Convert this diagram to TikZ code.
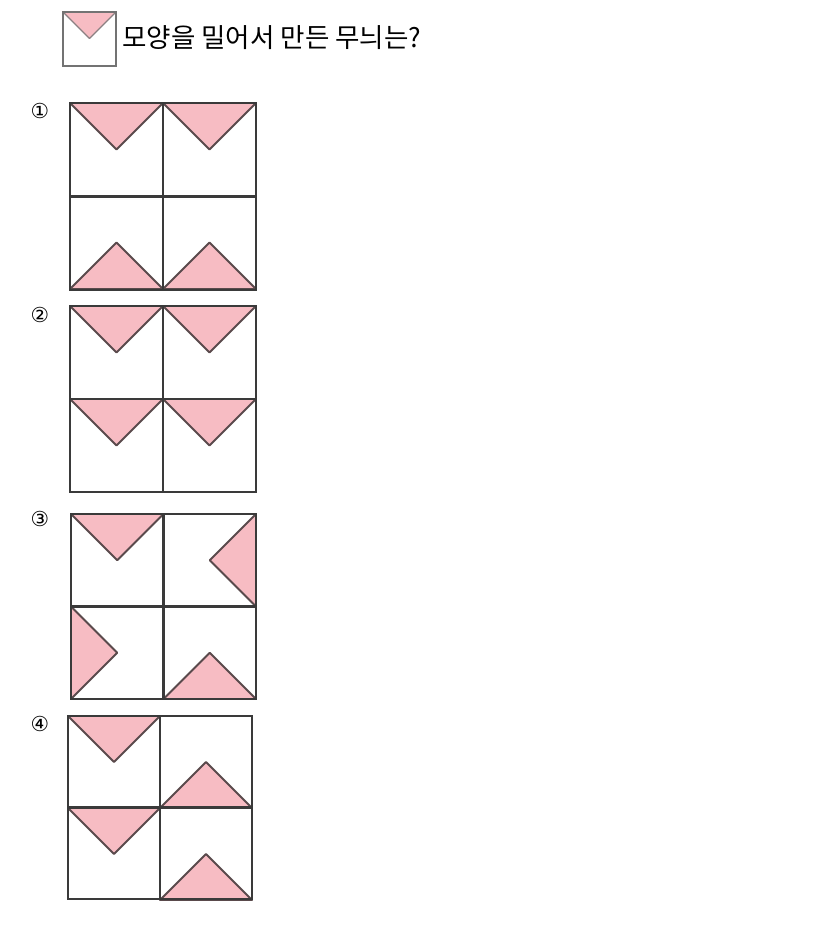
\documentclass[tikz,border=0pt]{standalone}
\usepackage{fontspec}
\newfontfamily\krfont{Noto Sans CJK KR}
\newfontfamily\symfont{DejaVu Sans}
\definecolor{pinkfill}{HTML}{F7BCC3}
\definecolor{triline}{HTML}{5A4A4C}
\definecolor{gridline}{HTML}{3A3A3A}
\tikzset{
  tri/.style={fill=pinkfill, draw=triline, line width=1.4pt, line join=round},
  gridl/.style={draw=gridline, line width=1.6pt},
  lbl/.style={font=\symfont\fontsize{15.5}{15.5}\selectfont, inner sep=0pt}
}
% cell: x0 y0 size orientation
\newcommand\pcell[4]{%
  \pgfmathsetmacro\xa{#1}\pgfmathsetmacro\ya{#2}\pgfmathsetmacro\ss{#3}%
  \pgfmathsetmacro\xb{\xa+\ss}\pgfmathsetmacro\yb{\ya+\ss}%
  \pgfmathsetmacro\xm{\xa+\ss/2}\pgfmathsetmacro\ym{\ya+\ss/2}%
  \ifcase#4
    \draw[tri] (\xa,\ya) -- (\xb,\ya) -- (\xm,\ym) -- cycle;
  \or
    \draw[tri] (\xa,\yb) -- (\xb,\yb) -- (\xm,\ym) -- cycle;
  \or
    \draw[tri] (\xb,\ya) -- (\xb,\yb) -- (\xm,\ym) -- cycle;
  \or
    \draw[tri] (\xa,\ya) -- (\xa,\yb) -- (\xm,\ym) -- cycle;
  \fi
}
% grid: x0 y0 x1 y1 orient TL TR BL BR
\newcommand\pgrid[8]{%
  \pgfmathsetmacro\gx{#1}\pgfmathsetmacro\gy{#2}%
  \pgfmathsetmacro\gs{(#3-#1)/2}%
  \pcell{\gx}{\gy}{\gs}{#5}
  \pcell{\gx+\gs}{\gy}{\gs}{#6}
  \pcell{\gx}{\gy+\gs}{\gs}{#7}
  \pcell{\gx+\gs}{\gy+\gs}{\gs}{#8}
  \draw[gridl] (#1,#2) rectangle (#3,#4);
  \draw[gridl] ({(#1+#3)/2},#2) -- ({(#1+#3)/2},#4);
  \draw[gridl] (#1,{(#2+#4)/2}) -- (#3,{(#2+#4)/2});
}
\begin{document}
\begin{tikzpicture}[x=0.75pt,y=-0.75pt]
\useasboundingbox (0,0) rectangle (827,936);
% header
\draw[fill=pinkfill, draw=triline!70, line width=1pt, line join=round] (63,12) -- (116,12) -- (89.5,38.5) -- cycle;
\draw[draw=black!55, line width=1pt] (63,12) rectangle (116,66);
\node[anchor=base west, inner sep=0pt, font=\krfont\fontsize{19.9}{20}\selectfont] (title) at (122,47) {모양을 밀어서 만든 무늬는?};
% labels
\node[lbl] (l1) at (40,111) {①};
\node[lbl] (l2) at (40,315) {②};
\node[lbl] (l3) at (40,519) {③};
\node[lbl] (l4) at (40,724) {④};
% options
\pgrid{70}{103}{256}{290}{0}{0}{1}{1}
\pgrid{70}{306}{256}{492}{0}{0}{0}{0}
\pgrid{71}{514}{256}{699}{0}{2}{3}{1}
\pgrid{68}{716}{252}{899}{0}{1}{0}{1}
\end{tikzpicture}
\end{document}
